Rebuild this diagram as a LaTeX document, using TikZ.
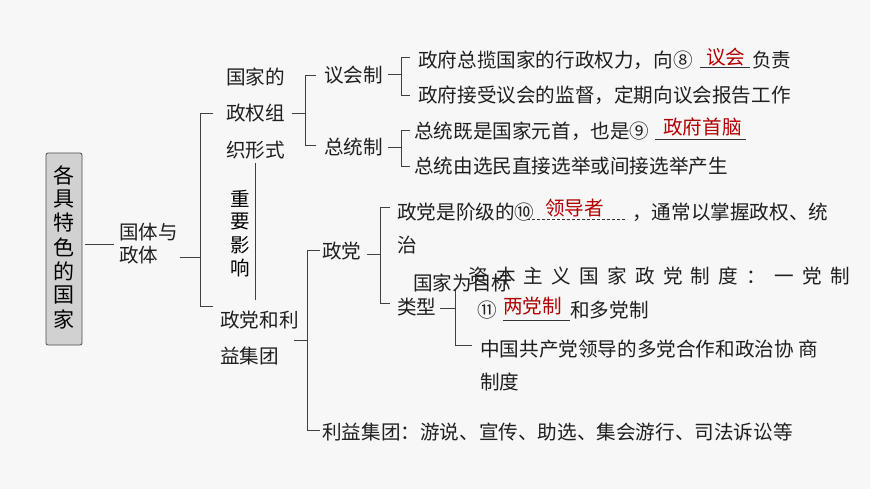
\documentclass[tikz,border=0pt]{standalone}
\usepackage{fontspec}
\setmainfont{Noto Sans CJK SC}
\begin{document}
\begin{tikzpicture}[x=1pt,y=-1pt,
  t/.style={anchor=west,inner sep=0pt,font=\fontsize{19.6}{21}\selectfont,text=black!88},
  ans/.style={anchor=west,inner sep=0pt,font=\fontsize{19.6}{21}\selectfont,text=red!70!black},
  ln/.style={draw=black!75,line width=0.9pt}]
\fill[black!3] (0,0) rectangle (870,489);
\useasboundingbox (0,0) rectangle (870,489);
% root
\node[draw=black!70,fill=black!18,rounded corners=2pt,minimum width=36pt,minimum height=192pt,inner sep=0pt,line width=0.8pt] (root) at (64,249) {};
\foreach \c [count=\i] in {各,具,特,色,的,国,家}
  \node[font=\fontsize{21}{22}\selectfont,inner sep=0pt] at (64,151+24*\i) {\c};
\node[t,align=left,font=\fontsize{19.5}{23}\selectfont] (gt) at (119,244) {国体与\\政体};
\draw[ln] (root.east)++(3,-5) -- (114,244);
\coordinate (v1) at (200,257);
\draw[ln] (180,257) -- (v1);
\draw[ln] (213,113) -- (200,113) -- (200,306) -- (213,306);
\node[t] (g1) at (226,77) {国家的};
\node[t] (g2) at (226,113) {政权组};
\node[t] (g3) at (226,150) {织形式};
\foreach \c [count=\i] in {重,要,影,响}
  \node[font=\fontsize{19.5}{20}\selectfont,inner sep=0pt] at (240,176+23*\i) {\c};
\draw[ln] (255,163) -- (255,300);
\node[t] (p1) at (220,320) {政党和利};
\node[t] (p2) at (220,356) {益集团};
% 政权组织形式 branch
\draw[ln] (292,113) -- (305,113);
\draw[ln] (316,75) -- (305,75) -- (305,145) -- (316,145);
\node[t] (yh) at (324,75) {议会制};
\node[t] (zt) at (324,147) {总统制};
\draw[ln] (388,74) -- (401,74);
\draw[ln] (410,57) -- (401,57) -- (401,95) -- (410,95);
\node[t] (a1) at (418,60) {政府总揽国家的行政权力，向⑧};
\node[ans] (a1r) at (706,57) {议会};
\draw[black!80,line width=0.7pt] (700,67) -- (750,67);
\node[t] at (752,60) {负责};
\node[t] (a2) at (418,95) {政府接受议会的监督，定期向议会报告工作};
\draw[ln] (388,147) -- (401,147);
\draw[ln] (410,130) -- (401,130) -- (401,166) -- (410,166);
\node[t] (b1) at (414,131) {总统既是国家元首，也是⑨};
\node[ans] at (663,127) {政府首脑};
\draw[black!80,line width=0.7pt] (655,139) -- (746,139);
\node[t] (b2) at (414,166) {总统由选民直接选举或间接选举产生};
% 政党和利益集团 branch
\draw[ln] (294,340) -- (307,340);
\draw[ln] (320,250) -- (307,250) -- (307,430) -- (320,430);
\node[t] (zd) at (322,251) {政党};
\draw[ln] (367,254) -- (380,254);
\draw[ln] (390,207) -- (380,207) -- (380,303) -- (390,303);
\node[t] (c1) at (397,212) {政党是阶级的⑩};
\node[ans] at (545,208) {领导者};
\draw[black!80,line width=0.7pt,dash pattern=on 3pt off 2pt] (527,219) -- (627,219);
\node[t] at (632,212) {，通常以掌握政权、统};
\node[t] at (397,245) {治};
\node[t] (lx) at (397,307) {类型};
\draw[ln] (440,308) -- (455,308);
\draw[ln] (455,290) -- (455,345) -- (472,345);
\node[t,font=\fontsize{19.6}{21}\selectfont\addfontfeature{LetterSpace=42}] (d1) at (468,276) {资本主义国家政党制度：一党制};
\node[t] (d0) at (413,283) {国家为目标};
\node[t] (d2) at (477,310) {⑪};
\node[ans] at (503,306) {两党制};
\draw[black!80,line width=0.7pt] (503,320) -- (570,320);
\node[t] at (570,310) {和多党制};
\node[t] (d3) at (480,349) {中国共产党领导的多党合作和政治协\hspace{5pt}商};
\node[t] at (480,382) {制度};
\node[t] (ly) at (322,432) {利益集团：游说、宣传、助选、集会游行、司法诉讼等};
\end{tikzpicture}
\end{document}
